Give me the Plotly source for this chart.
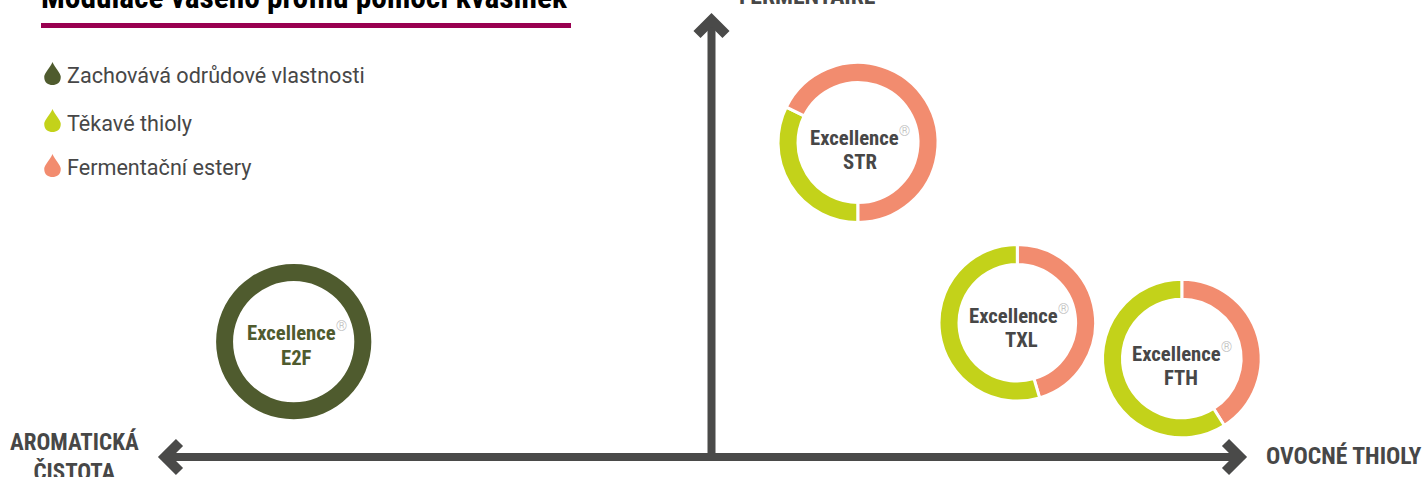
import plotly.graph_objects as go

WIDTH = 1422
HEIGHT = 477

# data
yeasts = ["E2F", "STR", "TXL", "FTH"]
varietal_share = [100, 0, 0, 0]
thiol_share = [0, 32.3, 54.6, 59]
ester_share = [0, 67.7, 45.4, 41]
legend_labels = ["Zachovává odrůdové vlastnosti", "Těkavé thioly", "Fermentační estery"]
chart_title = "Modulace vašeho profilu pomocí kvasinek"

OLIVE = "#4f5b2e"
LIME = "#c3d21a"
SALMON = "#f28c6f"
DARK = "#4a4a49"
TEXT = "#474747"
RULE = "#990050"
CONDENSED = "Roboto Condensed, Liberation Sans Narrow, Roboto, sans-serif"

# layout of each ring in page pixels: centre x, centre y, radius, start angle
rings = {
    "E2F": (293.7, 341.7, 77.6, 0),
    "STR": (858, 142.5, 78.5, 180),
    "TXL": (1017.3, 322.8, 76.8, 0),
    "FTH": (1181.8, 358.5, 77.8, 0),
}
# label centres inside the rings: x of line 1, x of line 2, y of line 1, y of line 2
ring_labels = {
    "E2F": (296.5, 296.5, 331, 358),
    "STR": (859.5, 859.5, 136, 162),
    "TXL": (1018.5, 1021, 314, 340),
    "FTH": (1181.5, 1181, 352, 378),
}


def drop_path(cx, top, h=23):
    w = h * 0.36
    bottom = top + h
    mid = bottom - w
    return (
        f"M {cx} {top} C {cx + 2} {top + 5} {cx + w} {mid - 3} {cx + w} {mid} "
        f"C {cx + w} {bottom - 2} {cx + 4} {bottom} {cx} {bottom} "
        f"C {cx - 4} {bottom} {cx - w} {bottom - 2} {cx - w} {mid} "
        f"C {cx - w} {mid - 3} {cx - 2} {top + 5} {cx} {top} Z"
    )


fig = go.Figure()

for i, name in enumerate(yeasts):
    cx, cy, r, start = rings[name]
    if varietal_share[i]:
        values, colors, pad, line_w = [varietal_share[i]], [OLIVE], 0, 0
    elif start == 180:
        values, colors, pad, line_w = [thiol_share[i], ester_share[i]], [LIME, SALMON], 1.5, 3
    else:
        values, colors, pad, line_w = [ester_share[i], thiol_share[i]], [SALMON, LIME], 1.5, 3
    outer = r + pad
    fig.add_trace(go.Pie(
        values=values,
        marker=dict(colors=colors, line=dict(color="white", width=line_w)),
        hole=(r - 17 - pad) / outer,
        sort=False,
        direction="clockwise",
        rotation=start,
        textinfo="none",
        hoverinfo="skip",
        showlegend=False,
        domain=dict(
            x=[(cx - outer) / WIDTH, (cx + outer) / WIDTH],
            y=[1 - (cy + outer) / HEIGHT, 1 - (cy - outer) / HEIGHT],
        ),
    ))
    label_color = OLIVE if varietal_share[i] else TEXT
    x1, x2, y1, y2 = ring_labels[name]
    fig.add_annotation(
        x=x1, y=y1, xref="x", yref="y", showarrow=False,
        text='Excellence<span style="font-weight:300;color:#bdbdbd"><sup>®</sup></span>',
        font=dict(family=CONDENSED, size=20.7, color=label_color, weight=700),
    )
    fig.add_annotation(
        x=x2, y=y2, xref="x", yref="y", showarrow=False,
        text=name,
        font=dict(family=CONDENSED, size=20.7, color=label_color, weight=700),
    )

# arrows as page furniture: shafts, then the heavier chevrons
shafts = [
    "M 711.5 457 L 711.5 22",
    "M 168 457 L 1238 457",
]
heads = [
    "M 697 34.5 L 711.5 20 L 726 34.5",
    "M 179.5 442.5 L 165 457 L 179.5 471.5",
    "M 1225.5 442.5 L 1240 457 L 1225.5 471.5",
]
shapes = [
    dict(type="path", path=p, xref="x", yref="y", line=dict(color=DARK, width=8))
    for p in shafts
]
shapes += [
    dict(type="path", path=p, xref="x", yref="y", line=dict(color=DARK, width=10))
    for p in heads
]
shapes.append(dict(
    type="rect", x0=41, x1=571, y0=23, y1=28, xref="x", yref="y",
    fillcolor=RULE, line=dict(width=0),
))

drop_colors = [OLIVE, LIME, SALMON]
drop_tops = [62, 109, 154]
text_y = [75, 123, 167]
for color, top in zip(drop_colors, drop_tops):
    shapes.append(dict(
        type="path", path=drop_path(52.5, top), xref="x", yref="y",
        fillcolor=color, line=dict(width=0),
    ))
for label, y in zip(legend_labels, text_y):
    fig.add_annotation(
        x=65, y=y, xref="x", yref="y", xanchor="left", showarrow=False,
        text=label, font=dict(family="Roboto", size=21.6, color=TEXT),
    )

fig.add_annotation(
    x=38.5, y=18, xref="x", yref="y", xanchor="left", yanchor="bottom", showarrow=False,
    text=f"<b>{chart_title}</b>", font=dict(family=CONDENSED, size=31.4, color="black"),
)
fig.add_annotation(
    x=807, y=12, xref="x", yref="y", yanchor="bottom", showarrow=False,
    text="<b>FERMENTAIRE</b>", font=dict(family=CONDENSED, size=23.7, color=TEXT),
)
fig.add_annotation(
    x=74, y=425.5, xref="x", yref="y", yanchor="top", showarrow=False, align="center",
    text="<b>AROMATICKÁ<br>ČISTOTA</b>", font=dict(family=CONDENSED, size=23, color=TEXT),
)
fig.add_annotation(
    x=1343.5, y=456, xref="x", yref="y", showarrow=False,
    text="<b>OVOCNÉ THIOLY</b>", font=dict(family=CONDENSED, size=23.7, color=TEXT),
)

fig.update_layout(
    width=WIDTH,
    height=HEIGHT,
    margin=dict(l=0, r=0, t=0, b=0),
    paper_bgcolor="white",
    plot_bgcolor="rgba(0,0,0,0)",
    shapes=shapes,
    xaxis=dict(range=[0, WIDTH], visible=False, fixedrange=True),
    yaxis=dict(range=[HEIGHT, 0], visible=False, fixedrange=True),
    showlegend=False,
)

# the page's default body margin would push everything 8px in
fig.write_html(
    "out.html",
    config={"displayModeBar": False},
    post_script="document.body.style.margin = '0';",
)
